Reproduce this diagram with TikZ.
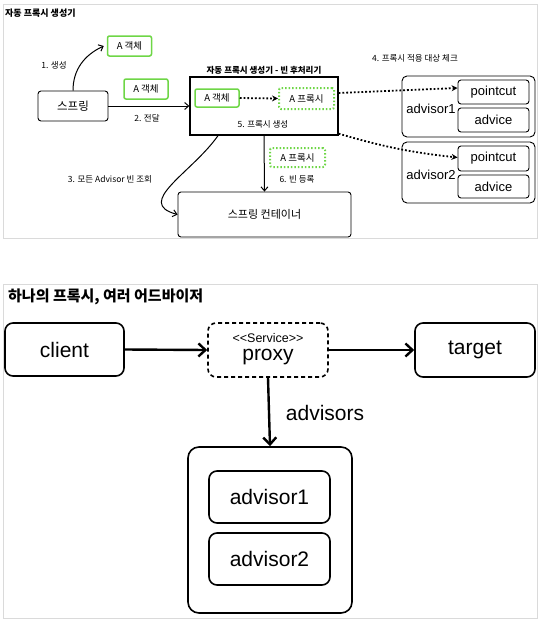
\documentclass[tikz,border=0pt]{standalone}
\usepackage{fontspec}
\setmainfont{Liberation Sans}
\newfontfamily\kr{Noto Sans CJK KR}
\usetikzlibrary{arrows.meta}
\definecolor{boxgreen}{RGB}{110,214,70}
\definecolor{panelgray}{RGB}{218,218,218}

\begin{document}
\begin{tikzpicture}[x=1pt,y=1pt,
    box/.style={draw,black,line width=0.9pt,rounded corners=3pt,inner sep=0pt},
    gbox/.style={draw=boxgreen,line width=1.5pt,rounded corners=2pt,inner sep=0pt,font=\kr\fontsize{9.5}{10}\selectfont},
    gdot/.style={gbox,dotted,line width=2pt},
    lbl/.style={font=\kr\fontsize{8.5}{9}\selectfont,inner sep=0pt},
    advtxt/.style={font=\fontsize{13}{15}\selectfont,inner sep=0pt},
    arr/.style={-{Straight Barb[length=4pt,width=7pt]},line width=1pt},
    darr/.style={dotted,line width=1.8pt,-{Stealth[length=6pt,width=6pt]}},
    bigbox/.style={draw,line width=1.6pt,rounded corners=8pt,inner sep=0pt,font=\fontsize{21}{24}\selectfont},
    barr/.style={-{Straight Barb[length=7pt,width=13pt]},line width=2.4pt}]
    \useasboundingbox (0,0) rectangle (541,-621);

    \draw[panelgray,line width=1pt] (3,-4) rectangle (537,-238);
    \node[anchor=west,inner sep=0pt,font=\kr\bfseries\fontsize{9}{10}\selectfont] (title1) at (5,-13) {자동 프록시 생성기};

    \node[box,minimum width=70pt,minimum height=30pt,font=\kr\fontsize{11.5}{13}\selectfont] (spring) at (73,-106) {스프링};
    \node[gbox,minimum width=44pt,minimum height=20pt] (aobj1) at (129.5,-46) {A 객체};
    \node[gbox,minimum width=44pt,minimum height=20pt] (aobj2) at (146,-89) {A 객체};
    \node[lbl] (l1) at (54,-65) {1. 생성};
    \node[lbl] (l2) at (147,-118) {2. 전달};

    \node[draw,line width=1.3pt,minimum width=148pt,minimum height=58pt] (bpp) at (264,-106) {};
    \node[inner sep=0pt,font=\kr\bfseries\fontsize{8.5}{10}\selectfont] (bpptitle) at (264,-70) {자동 프록시 생성기 - 빈 후처리기};
    \node[gbox,minimum width=44pt,minimum height=18pt] (aobj3) at (217,-98) {A 객체};
    \node[gdot,minimum width=55pt,minimum height=21pt] (aproxy1) at (306.5,-98.5) {A 프록시};
    \node[lbl] (l5) at (263,-124) {5. 프록시 생성};

    \node[box,minimum width=173pt,minimum height=45pt,font=\kr\fontsize{11}{13}\selectfont] (container) at (264.5,-214.5) {스프링 컨테이너};
    \node[gdot,minimum width=55pt,minimum height=19pt] (aproxy2) at (297.5,-157.5) {A 프록시};
    \node[lbl] (l6) at (297,-179) {6. 빈 등록};
    \node[lbl] (l3) at (110,-179) {3. 모든 Advisor 빈 조회};
    \node[lbl] (l4) at (415,-58) {4. 프록시 적용 대상 체크};

    \node[box,rounded corners=5pt,minimum width=133pt,minimum height=61pt] (adv1) at (468.5,-106.5) {};
    \node[box,minimum width=71pt,minimum height=24pt,advtxt] (pc1) at (493.5,-92) {pointcut};
    \node[box,minimum width=71pt,minimum height=24pt,advtxt] (ad1) at (493.5,-120) {advice};
    \node[advtxt] (adv1name) at (431,-109) {advisor1};
    \node[box,rounded corners=5pt,minimum width=133pt,minimum height=61pt] (adv2) at (468.5,-172.5) {};
    \node[box,minimum width=71pt,minimum height=25pt,advtxt] (pc2) at (493.5,-158.5) {pointcut};
    \node[box,minimum width=71pt,minimum height=23pt,advtxt] (ad2) at (493.5,-186.5) {advice};
    \node[advtxt] (adv2name) at (431,-175) {advisor2};

    \draw[arr] (spring.north) to[out=90,in=205] ([xshift=-3pt]aobj1.west);
    \draw[arr] (spring.east) -- (bpp.west);
    \draw[darr] (aobj3.east) -- (aproxy1.west);
    \draw[darr] ([yshift=13pt]bpp.east) -- ([yshift=4pt]pc1.west);
    \draw[darr] ([yshift=2pt]bpp.south east) to[bend right=5] ([yshift=1pt]pc2.west);
    \draw[arr] ([xshift=-46pt]bpp.south) to[out=235,in=165,looseness=1.3] (container.west);
    \draw[arr] (bpp.south) -- (container.north);

    \draw[panelgray,line width=1pt] (3,-284) rectangle (537,-618);
    \node[anchor=west,inner sep=0pt,font=\kr\bfseries\fontsize{15}{17}\selectfont] (title2) at (8,-297) {하나의 프록시, 여러 어드바이저};

    \node[bigbox,minimum width=119pt,minimum height=53pt] (client) at (64.5,-349.5) {client};
    \node[bigbox,dashed,dash pattern=on 4pt off 3pt,minimum width=120pt,minimum height=54pt] (proxy) at (268,-350) {};
    \node[anchor=base,inner sep=0pt,font=\fontsize{12.5}{15}\selectfont] (stereo) at (268,-342) {<\kern0pt<Service>\kern0pt>};
    \node[anchor=base,inner sep=0pt,font=\fontsize{21}{24}\selectfont] (proxyname) at (268,-360) {proxy};
    \node[bigbox,minimum width=120pt,minimum height=54pt] (target) at (475,-350) {target};
    \node[inner sep=0pt,font=\fontsize{21}{24}\selectfont] (advlbl) at (325,-413) {advisors};

    \node[bigbox,rounded corners=11pt,minimum width=164pt,minimum height=166pt] (advset) at (270,-530) {};
    \node[bigbox,minimum width=121pt,minimum height=52pt] (advisorA) at (269.5,-497) {advisor1};
    \node[bigbox,minimum width=121pt,minimum height=52pt] (advisorB) at (269.5,-559) {advisor2};

    \draw[barr] (client.east) -- (proxy.west);
    \draw[barr] (proxy.east) -- (target.west);
    \draw[barr] (proxy.south) -- (advset.north);
\end{tikzpicture}
\end{document}
